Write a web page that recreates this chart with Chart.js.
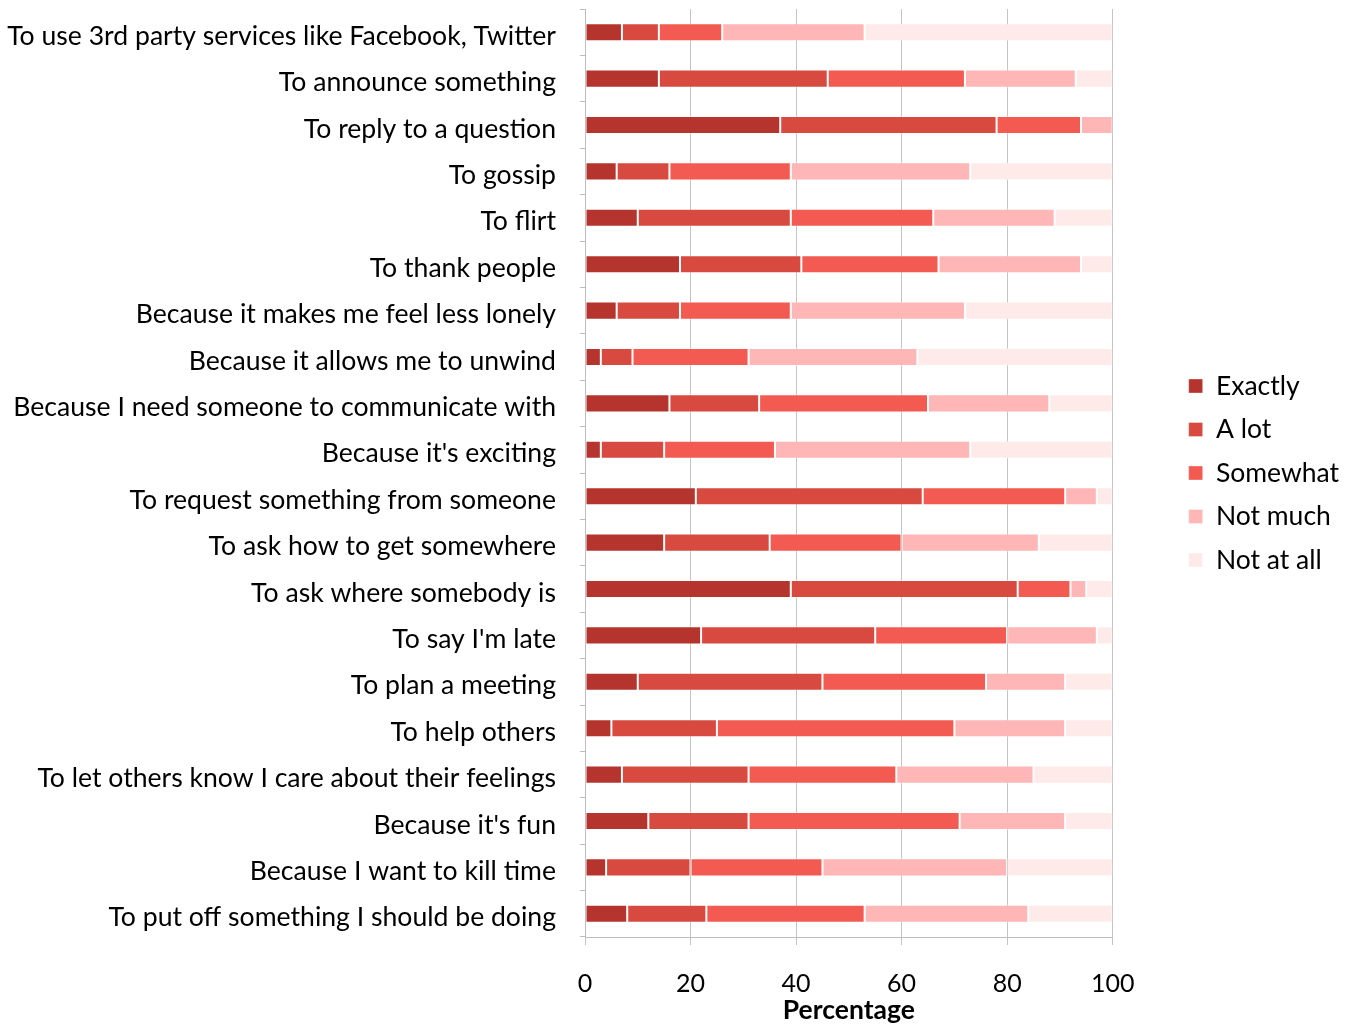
<!DOCTYPE html>
<html>
<head>
<meta charset="utf-8">
<script src="https://cdn.jsdelivr.net/npm/chart.js@4/dist/chart.umd.min.js"></script>
<style>
  html, body { margin: 0; padding: 0; background: #fff; }
  #wrap { width: 1354px; height: 1026px; }
</style>
</head>
<body>
<div id="wrap"><canvas id="c" width="1354" height="1026"></canvas></div>
<script>
const categories = [
  "To use 3rd party services like Facebook, Twitter",
  "To announce something",
  "To reply to a question",
  "To gossip",
  "To flirt",
  "To thank people",
  "Because it makes me feel less lonely",
  "Because it allows me to unwind",
  "Because I need someone to communicate with",
  "Because it's exciting",
  "To request something from someone",
  "To ask how to get somewhere",
  "To ask where somebody is",
  "To say I'm late",
  "To plan a meeting",
  "To help others",
  "To let others know I care about their feelings",
  "Because it's fun",
  "Because I want to kill time",
  "To put off something I should be doing"
];
const seriesNames = ["Exactly", "A lot", "Somewhat", "Not much", "Not at all"];
const exactly  = [7, 14, 37, 6, 10, 18, 6, 3, 16, 3, 21, 15, 39, 22, 10, 5, 7, 12, 4, 8];
const aLot     = [7, 32, 41, 10, 29, 23, 12, 6, 17, 12, 43, 20, 43, 33, 35, 20, 24, 19, 16, 15];
const somewhat = [12, 26, 16, 23, 27, 26, 21, 22, 32, 21, 27, 25, 10, 25, 31, 45, 28, 40, 25, 30];
const notMuch  = [27, 21, 6, 34, 23, 27, 33, 32, 23, 37, 6, 26, 3, 17, 15, 21, 26, 20, 35, 31];
const notAtAll = [47, 7, 0, 27, 11, 6, 28, 37, 12, 27, 3, 14, 5, 3, 9, 9, 15, 9, 20, 16];
const xTicks = [0, 20, 40, 60, 80, 100];
const xTitle = "Percentage";

const colors = ["#b5342e", "#d84a40", "#f35a51", "#ffb6b6", "#ffeaea"];
const values = [exactly, aLot, somewhat, notMuch, notAtAll];

const FONT = "Lato, 'Open Sans', sans-serif";

const datasets = seriesNames.map((name, i) => ({
  label: name,
  data: values[i],
  backgroundColor: colors[i],
  borderColor: "rgba(255,255,255,0.35)",
  borderWidth: 1,
  borderSkipped: false,
  barPercentage: 0.39,
  categoryPercentage: 1.0
}));

new Chart(document.getElementById("c"), {
  type: "bar",
  data: { labels: categories, datasets },
  options: {
    indexAxis: "y",
    responsive: false,
    animation: false,
    layout: { padding: { top: 9, right: 5, bottom: 0, left: 0 } },
    plugins: {
      legend: {
        position: "right",
        fullSize: false,
        align: "center",
        labels: {
          boxWidth: 14,
          boxHeight: 14,
          padding: 17,
          color: "#000",
          font: { family: FONT, size: 26.5 }
        }
      },
      tooltip: { enabled: false }
    },
    scales: {
      x: {
        stacked: true,
        min: 0,
        max: 100,
        afterBuildTicks: (s) => { s.ticks = xTicks.map(v => ({ value: v })); },
        grid: { color: "#c4c4c4", lineWidth: 1, tickLength: 8, drawTicks: true },
        border: { display: true, color: "#bdbdbd" },
        ticks: { color: "#000", padding: 24, font: { family: FONT, size: 25 } },
        title: {
          display: true,
          text: xTitle,
          color: "#000",
          padding: { top: 0, bottom: 0 },
          font: { family: FONT, size: 26.5, weight: "bold" }
        },
        afterFit: (s) => { s.height = 1026 - 937; }
      },
      y: {
        stacked: true,
        grid: { drawOnChartArea: false, drawTicks: true, tickLength: 5, color: "#bdbdbd" },
        border: { display: true, color: "#bdbdbd" },
        ticks: { color: "#000", padding: 24, labelOffset: 4, autoSkip: false, font: { family: FONT, size: 26.6 } },
        afterFit: (s) => { s.width = 585; s.paddingTop = 0; s.paddingBottom = 0; }
      },
      yRight: {
        type: "linear",
        position: "right",
        display: true,
        grid: { display: false },
        border: { display: false },
        ticks: { display: false },
        afterFit: (s) => { s.width = 59; s.paddingTop = 0; s.paddingBottom = 0; }
      }
    }
  }
});
</script>
</body>
</html>
